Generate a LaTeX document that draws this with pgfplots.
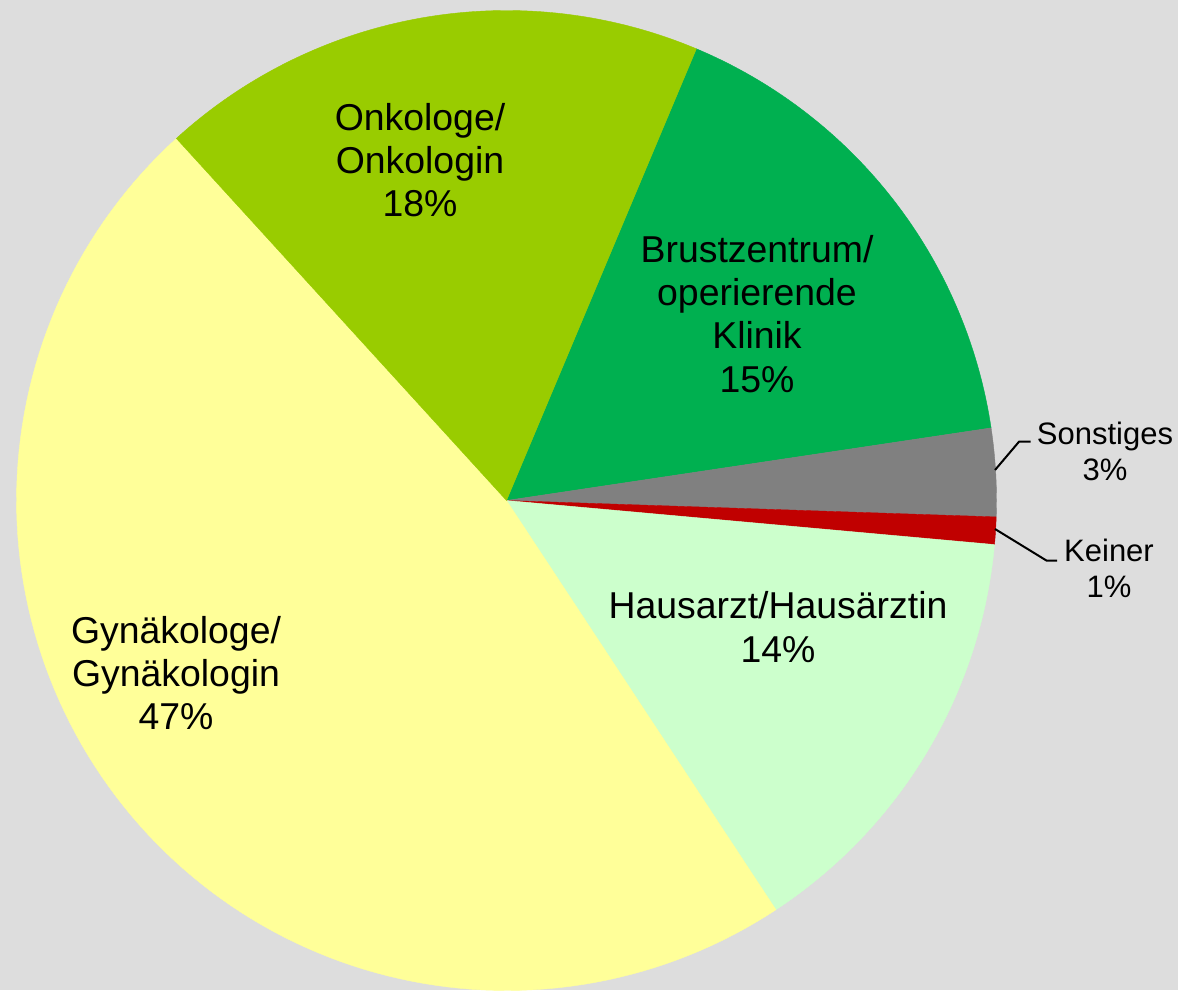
\documentclass[border=0pt]{standalone}
\usepackage{pgfplots}
\pgfplotsset{compat=1.18}
\usepackage{pgfplotstable}
\usepackage{fontspec}
\setmainfont{Liberation Sans}
\definecolor{bgcol}{HTML}{DDDDDD}
\definecolor{cOnk}{HTML}{99CC00}
\definecolor{cBrust}{HTML}{00B050}
\definecolor{cSonst}{HTML}{808080}
\definecolor{cKeiner}{HTML}{C00000}
\definecolor{cHaus}{HTML}{CCFFCC}
\definecolor{cGyn}{HTML}{FFFF99}

% slice shares (percent), clockwise starting at 67.2 degrees
\pgfplotstableread{
name value col
Brust 16.3 cBrust
Sonst 2.9 cSonst
Keiner 0.9 cKeiner
Haus 14.3 cHaus
Gyn 47.5 cGyn
Onk 18.1 cOnk
}\piedata

\newcommand\lblbig{\fontsize{18.7bp}{21.6bp}\selectfont}
\newcommand\lblsmall{\fontsize{15.5bp}{18bp}\selectfont}

\begin{document}
\begin{tikzpicture}
\begin{axis}[
  x=0.5bp, y=0.5bp,
  xmin=0, xmax=1178, ymin=0, ymax=990,
  hide axis,
  scale only axis,
]
\fill[bgcol] (0,0) rectangle (1178,990);
\pgfmathsetmacro\cur{67.2}
\pgfplotsforeachungrouped \i in {0,...,5}{
  \pgfplotstablegetelem{\i}{value}\of\piedata \let\v\pgfplotsretval
  \pgfplotstablegetelem{\i}{col}\of\piedata \let\c\pgfplotsretval
  \pgfmathsetmacro\nxt{\cur-3.6*\v}
  \edef\temp{\noexpand\addplot[fill=\c, draw=\c, line width=0.2pt, domain=\nxt:\cur, samples=120, variable=\noexpand\t]
    ({506.5+490*cos(\noexpand\t)},{489.5+490*sin(\noexpand\t)}) -- (506.5,489.5) -- cycle;}
  \temp
  \global\let\cur\nxt
}
% leader lines
\draw[line width=1bp] (995,520) -- (1019,548.3) -- (1030.7,548.3);
\draw[line width=1bp] (995,461) -- (1046.7,429.3) -- (1057,429.3);
% labels
\node[align=center, font=\lblbig] at (420,830) {Onkologe/\\Onkologin\\18\%};
\node[align=center, font=\lblbig] at (757,676) {Brustzentrum/\\operierende\\Klinik\\15\%};
\node[align=center, font=\lblsmall] at (1105,539) {Sonstiges\\3\%};
\node[align=center, font=\lblsmall] at (1109,422) {Keiner\\1\%};
\node[align=center, font=\lblbig] at (778,363) {Hausarzt/Hausärztin\\14\%};
\node[align=center, font=\lblbig] at (176,317) {Gynäkologe/\\Gynäkologin\\47\%};
\end{axis}
\end{tikzpicture}
\end{document}
